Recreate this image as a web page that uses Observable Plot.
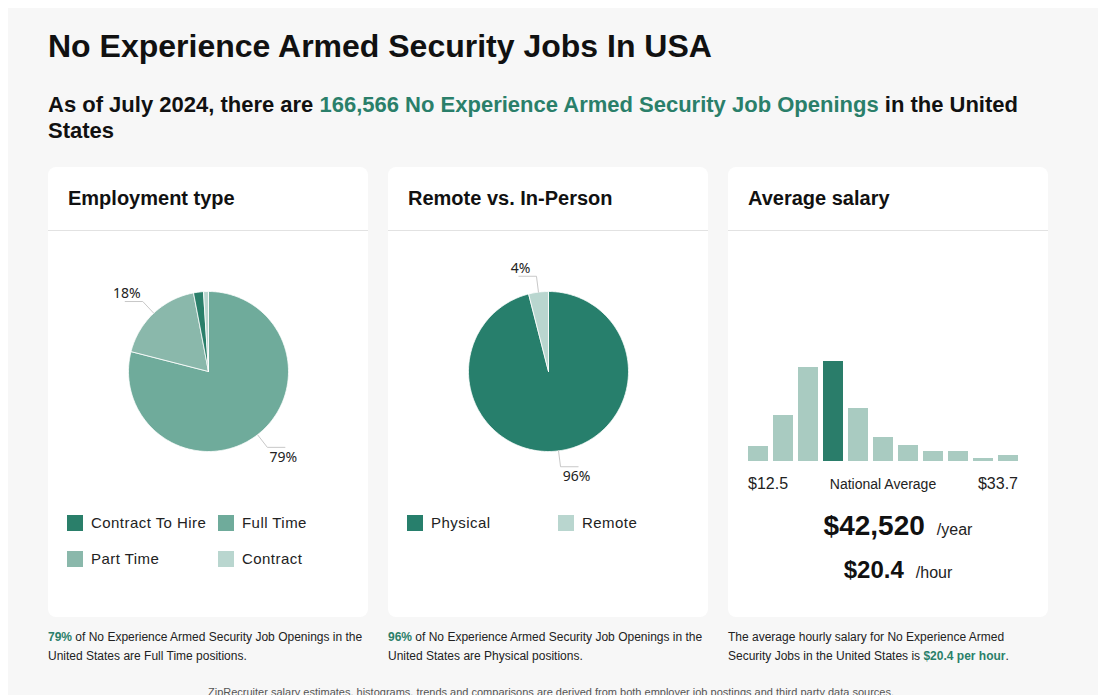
<!DOCTYPE html>
<html><head><meta charset="utf-8">
<script src="https://cdn.jsdelivr.net/npm/d3@7"></script>
<script src="https://cdn.jsdelivr.net/npm/@observablehq/plot@0.6"></script>
<style>
body{margin:0;font-family:"Liberation Sans",Arial,Helvetica,sans-serif;color:#111;background:#fff;}
#bg{position:absolute;left:8px;top:8px;width:1090px;height:700px;background:#f7f7f7;}
.abs{position:absolute;}
h1{position:absolute;left:48px;top:26px;margin:0;font-size:32px;font-weight:bold;line-height:40px;}
.sub{left:48px;top:92px;width:1000px;font-size:22px;font-weight:bold;line-height:26px;}
.green{color:#2a7f6a;}
.card{position:absolute;top:167px;width:320px;height:450px;background:#fff;border-radius:8px;}
.hdtxt{position:absolute;left:20px;top:19px;font-size:20px;font-weight:bold;line-height:24px;}
.div{position:absolute;left:0;top:63px;width:320px;height:1px;background:#e2e2e2;}
.leg{position:absolute;font-size:15px;letter-spacing:0.45px;color:#222;line-height:18px;}
.sw{display:inline-block;width:16px;height:16px;vertical-align:-3px;margin-right:8px;}
.note{position:absolute;top:628px;width:320px;font-size:12px;line-height:19px;color:#222;}
.note b{color:#2a7f6a;}
</style></head>
<body>
<div id="bg"></div>
<h1>No Experience Armed Security Jobs In USA</h1>
<div class="abs sub">As of July 2024, there are <span class="green">166,566 No Experience Armed Security Job Openings</span> in the United States</div>

<div class="card" id="c1" style="left:48px"><div class="hdtxt">Employment type</div><div class="div"></div><div id="pie1" class="abs" style="left:0;top:64px"></div><div id="leg1"></div></div>
<div class="card" id="c2" style="left:388px"><div class="hdtxt">Remote vs. In-Person</div><div class="div"></div><div id="pie2" class="abs" style="left:0;top:64px"></div><div id="leg2"></div></div>
<div class="card" id="c3" style="left:728px"><div class="hdtxt">Average salary</div><div class="div"></div>
 <div id="hist" class="abs" style="left:0;top:174px"></div>
 <div class="abs" style="left:20px;top:308px;font-size:16px;color:#222;">$12.5</div>
 <div class="abs" style="left:80px;width:150px;text-align:center;top:309px;font-size:14px;color:#222;">National Average</div>
 <div class="abs" style="right:30px;top:308px;font-size:16px;color:#222;">$33.7</div>
 <div class="abs" style="left:10px;width:320px;top:343px;text-align:center;"><span style="font-size:28px;font-weight:bold;">$42,520</span><span style="font-size:16px;margin-left:12px;color:#222">/year</span></div>
 <div class="abs" style="left:10px;width:320px;top:389px;text-align:center;"><span style="font-size:24px;font-weight:bold;">$20.4</span><span style="font-size:16px;margin-left:12px;color:#222">/hour</span></div>
</div>

<div class="note" style="left:48px"><b>79%</b> of No Experience Armed Security Job Openings in the United States are Full Time positions.</div>
<div class="note" style="left:388px"><b>96%</b> of No Experience Armed Security Job Openings in the United States are Physical positions.</div>
<div class="note" style="left:728px">The average hourly salary for No Experience Armed Security Jobs in the United States is <b>$20.4 per hour</b>.</div>
<div class="abs" style="left:0;width:1102px;text-align:center;top:686px;font-size:11px;color:#555;">ZipRecruiter salary estimates, histograms, trends and comparisons are derived from both employer job postings and third party data sources.</div>

<script>
// ---- data ----
const empCategories = ["Full Time", "Part Time", "Contract To Hire", "Contract"];
const empValues = [79, 18, 2, 1];
const empColors = ["#6fab9b", "#8ab8ab", "#2a7f6a", "#b9d6cf"];
const empLegendOrder = ["Contract To Hire", "Full Time", "Part Time", "Contract"];
const empLabeled = ["Full Time", "Part Time"];

const remoteCategories = ["Physical", "Remote"];
const remoteValues = [96, 4];
const remoteColors = ["#277f6c", "#b9d6cf"];
const remoteLegendOrder = ["Physical", "Remote"];
const remoteLabeled = ["Physical", "Remote"];

const histBins = ["b1","b2","b3","b4","b5","b6","b7","b8","b9","b10","b11"];
const histValues = [15, 46, 94, 100, 53, 24, 16, 10, 10, 3, 6];
const histHighlight = "b4";

function pieChart(cats, vals, colors, labeled) {
  const total = d3.sum(vals);
  const pts = [], lines = [], labels = [];
  let acc = 0;
  cats.forEach((c, i) => {
    const a0 = acc / total * 2 * Math.PI;
    acc += vals[i];
    const a1 = acc / total * 2 * Math.PI;
    pts.push({key: c, x: 0, y: 0});
    const n = Math.max(2, Math.ceil((a1 - a0) / (Math.PI / 180)));
    for (let k = 0; k <= n; k++) {
      const a = a0 + (a1 - a0) * k / n;
      pts.push({key: c, x: Math.sin(a), y: Math.cos(a)});
    }
    pts.push({key: c, x: 0, y: 0});
    if (labeled.includes(c)) {
      const m = (a0 + a1) / 2;
      const sx = Math.sin(m), sy = Math.cos(m);
      const dir = sx >= 0 ? 1 : -1;
      const ex = 1.2 * sx, ey = 1.2 * sy;
      lines.push({key: c, x: sx, y: sy}, {key: c, x: ex, y: ey}, {key: c, x: ex + dir * 0.22, y: ey});
      labels.push({x: ex + dir * 0.2, y: ey, up: sy > 0, text: Math.round(vals[i] / total * 100) + "%"});
    }
  });
  return Plot.plot({
    width: 320, height: 270, margin: 0,
    x: {domain: [-2, 2], range: [0, 320], axis: null},
    y: {domain: [-1.625, 1.75], range: [270, 0], axis: null},
    color: {domain: cats, range: colors},
    marks: [
      Plot.line(pts, {x: "x", y: "y", z: "key", fill: "key", stroke: "white", strokeWidth: 0.8, curve: "linear"}),
      Plot.line(lines, {x: "x", y: "y", z: "key", stroke: "#c8c8c8", strokeWidth: 1}),
      Plot.text(labels.filter(d => d.up), {x: "x", y: "y", text: "text", dy: -8, fontSize: 14, fill: "#222"}),
      Plot.text(labels.filter(d => !d.up), {x: "x", y: "y", text: "text", dy: 10, fontSize: 14, fill: "#222"})
    ]
  });
}

function legend(el, order, cats, colors, left2) {
  const cont = document.getElementById(el);
  order.forEach((c, i) => {
    const d = document.createElement("div");
    d.className = "leg";
    d.style.left = (i % 2 === 0 ? 19 : left2) + "px";
    d.style.top = (347 + Math.floor(i / 2) * 36) + "px";
    d.innerHTML = `<span class="sw" style="background:${colors[cats.indexOf(c)]}"></span>${c}`;
    cont.appendChild(d);
  });
}

document.getElementById("pie1").appendChild(pieChart(empCategories, empValues, empColors, empLabeled));
document.getElementById("pie2").appendChild(pieChart(remoteCategories, remoteValues, remoteColors, remoteLabeled));
legend("leg1", empLegendOrder, empCategories, empColors, 170);
legend("leg2", remoteLegendOrder, remoteCategories, remoteColors, 170);

const histData = histBins.map((b, i) => ({bin: b, v: histValues[i]}));
document.getElementById("hist").appendChild(Plot.plot({
  width: 320, height: 120, marginLeft: 20, marginRight: 30, marginTop: 20, marginBottom: 0,
  x: {domain: histBins, paddingInner: 0.2, paddingOuter: 0, axis: null},
  y: {domain: [0, 100], axis: null},
  marks: [
    Plot.barY(histData, {x: "bin", y: "v", fill: d => d.bin === histHighlight ? "#2a7d6a" : "#a9cbc1"})
  ]
}));
</script>
</body></html>
